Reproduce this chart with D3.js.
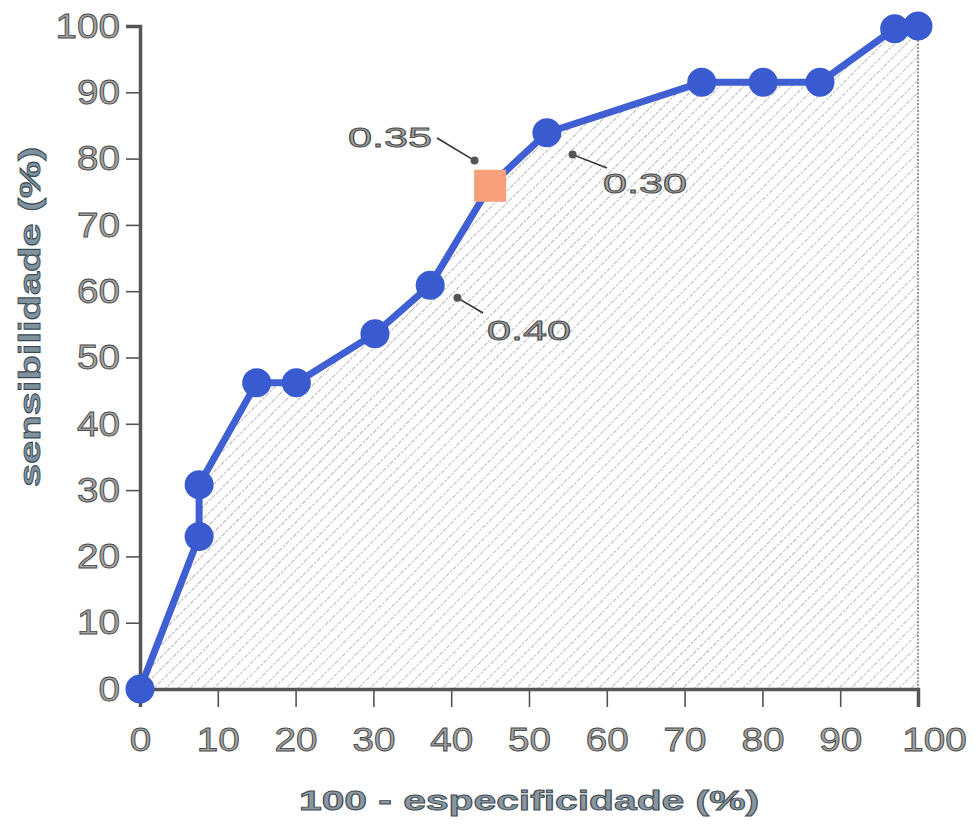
<!DOCTYPE html>
<html><head><meta charset="utf-8">
<script src="https://cdn.jsdelivr.net/npm/d3@7"></script>
<style>body{margin:0;background:#fff}svg{display:block}</style>
</head><body><svg id="c" width="975" height="825"></svg>
<script>
const fpr = [0, 7.6, 7.6, 15.0, 20.1, 30.2, 37.3, 45.0, 52.3, 72.2, 80.1, 87.4, 97.0, 100];
const sens = [0, 23.0, 30.8, 46.2, 46.2, 53.6, 60.9, 75.9, 83.9, 91.5, 91.5, 91.5, 99.6, 100];
const isCutoff = [false,false,false,false,false,false,false,true,false,false,false,false,false,false];
const ticks = [0,10,20,30,40,50,60,70,80,90,100];
const cutLabels = ["0.35","0.30","0.40"];
const cutAnchorX = [43.0, 55.6, 40.8];
const cutAnchorY = [79.7, 80.6, 59.0];

const svg = d3.select("#c");
const x = d3.scaleLinear().domain([0,100]).range([140,918]);
const y = d3.scaleLinear().domain([0,100]).range([689,26]);
const pts = fpr.map((v,i)=>({x:v,y:sens[i],cut:isCutoff[i]}));

const defs = svg.append("defs");
const pat = defs.append("pattern").attr("id","hatch").attr("patternUnits","userSpaceOnUse")
  .attr("width",8.5).attr("height",10).attr("patternTransform","rotate(45)");
pat.append("line").attr("x1",0).attr("y1",0).attr("x2",0).attr("y2",10)
  .attr("stroke","#4a4a4a").attr("stroke-width",0.8).attr("stroke-dasharray","2.5 1.5");

const area = d3.area().x(d=>x(d.x)).y0(y(0)).y1(d=>y(d.y));
svg.append("path").datum(pts).attr("d",area).attr("fill","url(#hatch)");
svg.append("line").attr("x1",x(100)).attr("x2",x(100)).attr("y1",y(100)).attr("y2",y(0))
  .attr("stroke","#555").attr("stroke-width",1.2).attr("stroke-dasharray","2 1.5");

const textStyle = sel => sel.attr("font-family","Liberation Sans, Arial, sans-serif")
  .attr("fill","#a3a3a3").attr("stroke","#4a4a4a").attr("stroke-width",0.9);
const stretch = sel => sel.attr("textLength",d=>String(d).length*21.5).attr("lengthAdjust","spacingAndGlyphs");

// axes
const xAxis = svg.append("g").attr("transform",`translate(0,${y(0)})`)
  .call(d3.axisBottom(x).tickValues(ticks).tickSize(18).tickPadding(21));
xAxis.select(".domain").attr("stroke","#555").attr("stroke-width",3.5);
xAxis.selectAll(".tick line").attr("stroke","#555").attr("stroke-width",1.6);
xAxis.selectAll(".tick text").call(textStyle).call(stretch).attr("font-size",33).attr("dy","0.71em");
const yAxis = svg.append("g").attr("transform",`translate(${x(0)},0)`)
  .call(d3.axisLeft(y).tickValues(ticks).tickSize(14).tickPadding(6));
yAxis.select(".domain").attr("stroke","#555").attr("stroke-width",3.5);
yAxis.selectAll(".tick line").attr("stroke","#555").attr("stroke-width",1.6);
yAxis.selectAll(".tick text").call(textStyle).call(stretch).attr("font-size",35);
xAxis.selectAll(".tick text").filter(d=>d===100).attr("dx",16);

// ROC line
svg.append("path").datum(pts).attr("d",d3.line().x(d=>x(d.x)).y(d=>y(d.y)))
  .attr("fill","none").attr("stroke","#3f5fd2").attr("stroke-width",7).attr("stroke-linejoin","round");
svg.selectAll("circle.pt").data(pts.filter(d=>!d.cut)).join("circle").attr("class","pt")
  .attr("cx",d=>x(d.x)).attr("cy",d=>y(d.y)).attr("r",14.5).attr("fill","#3a5ad0");
svg.selectAll("rect.cut").data(pts.filter(d=>d.cut)).join("rect").attr("class","cut")
  .attr("x",d=>x(d.x)-16).attr("y",d=>y(d.y)-16).attr("width",32).attr("height",32).attr("fill","#f5a07a");

// annotations
const labelPos = [[348,147,437,138],[603,193,607,168],[487,340,483,313]];
cutLabels.forEach((t,i)=>{
  const ax = x(cutAnchorX[i]), ay = y(cutAnchorY[i]);
  const [tx,ty,lx,ly] = labelPos[i];
  svg.append("line").attr("x1",ax).attr("y1",ay).attr("x2",lx).attr("y2",ly)
    .attr("stroke","#333").attr("stroke-width",1.6);
  svg.append("circle").attr("cx",ax).attr("cy",ay).attr("r",4).attr("fill","#555");
  svg.append("text").attr("x",tx).attr("y",ty).text(t).call(textStyle)
    .attr("font-size",28).attr("textLength",84).attr("lengthAdjust","spacingAndGlyphs");
});

// titles
svg.append("text").attr("x",529).attr("y",810).attr("text-anchor","middle")
  .text("100 - especificidade (%)").attr("font-family","Liberation Sans, Arial, sans-serif")
  .attr("font-weight","bold").attr("font-size",28).attr("fill","#8a979f").attr("stroke","#3f4c55").attr("stroke-width",0.9)
  .attr("textLength",460).attr("lengthAdjust","spacingAndGlyphs");
svg.append("text").attr("transform","translate(40,317) rotate(-90)").attr("text-anchor","middle")
  .text("sensibilidade (%)").attr("font-family","Liberation Sans, Arial, sans-serif")
  .attr("font-weight","bold").attr("font-size",30).attr("fill","#7f929e").attr("stroke","#3a4b56").attr("stroke-width",0.9)
  .attr("textLength",340).attr("lengthAdjust","spacingAndGlyphs");
</script></body></html>
